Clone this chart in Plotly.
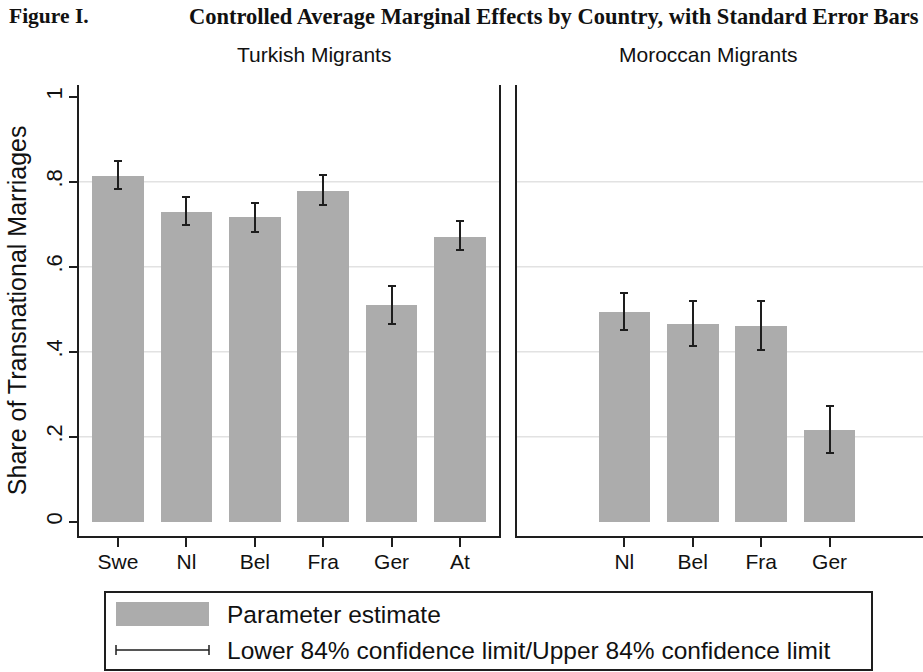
import plotly.graph_objects as go

# ---------------- data ----------------
country_order = ["Swe", "Nl", "Bel", "Fra", "Ger", "At"]

turk_countries = ["Swe", "Nl", "Bel", "Fra", "Ger", "At"]
turk_est = [0.814, 0.729, 0.717, 0.779, 0.509, 0.671]
turk_lo = [0.782, 0.697, 0.681, 0.744, 0.464, 0.639]
turk_hi = [0.849, 0.764, 0.751, 0.815, 0.555, 0.708]

mor_countries = ["Nl", "Bel", "Fra", "Ger"]
mor_est = [0.494, 0.466, 0.460, 0.215]
mor_lo = [0.452, 0.413, 0.403, 0.162]
mor_hi = [0.538, 0.519, 0.519, 0.272]

y_ticks = [0, 0.2, 0.4, 0.6, 0.8, 1]
y_tick_labels = ["0", ".2", ".4", ".6", ".8", "1"]
grid_vals = [0.2, 0.4, 0.6, 0.8]

panel_titles = ["Turkish Migrants", "Moroccan Migrants"]
y_title = "Share of Transnational Marriages"
fig_label = "Figure I."
fig_title = "Controlled Average Marginal Effects by Country, with Standard Error Bars"
legend_labels = ["Parameter estimate",
                 "Lower 84% confidence limit/Upper 84% confidence limit"]

# ---------------- styles ----------------
W, H = 923, 672
BAR = "#acacac"
INK = "#1e1e1e"
GRID = "#e2e2e2"
SANS = "Liberation Sans, Arial, sans-serif"
SERIF = "Liberation Serif, Times New Roman, serif"


def px(x):
    return x / W


def py(y):
    return 1 - y / H


def pos(names):
    return [country_order.index(c) for c in names]


def err(est, lo, hi):
    return dict(type="data", symmetric=False,
                array=[h - e for e, h in zip(est, hi)],
                arrayminus=[e - l for e, l in zip(est, lo)],
                color=INK, thickness=2, width=4)


fig = go.Figure()
fig.add_trace(go.Bar(x=pos(turk_countries), y=turk_est, width=0.755,
                     marker=dict(color=BAR, line=dict(width=0)),
                     error_y=err(turk_est, turk_lo, turk_hi),
                     xaxis="x", yaxis="y", showlegend=False))
fig.add_trace(go.Bar(x=pos(mor_countries), y=mor_est, width=0.755,
                     marker=dict(color=BAR, line=dict(width=0)),
                     error_y=err(mor_est, mor_lo, mor_hi),
                     xaxis="x2", yaxis="y2", showlegend=False))

ydom = [py(535.7), py(85)]
yr = [-0.033, 1.0275]
axis_common = dict(showline=True, linecolor=INK, linewidth=2, showgrid=False,
                   zeroline=False, ticks="outside", tickcolor=INK, tickwidth=2,
                   fixedrange=True)

fig.update_layout(
    width=W, height=H, autosize=False,
    margin=dict(l=0, r=0, t=0, b=0),
    paper_bgcolor="white", plot_bgcolor="white",
    bargap=0,
    xaxis=dict(domain=[px(79), px(499)], anchor="y", range=[-0.57, 5.57],
               tickvals=pos(turk_countries), ticktext=turk_countries,
               ticklen=9, ticklabelstandoff=-3,
               tickfont=dict(family=SANS, size=21, color="#111"),
               **axis_common),
    xaxis2=dict(domain=[px(517), 1.0], anchor="y2", range=[-0.57, 5.366],
                tickvals=pos(mor_countries), ticktext=mor_countries,
                ticklen=9, ticklabelstandoff=-3,
                tickfont=dict(family=SANS, size=21, color="#111"),
                **axis_common),
    yaxis=dict(domain=ydom, anchor="x", range=yr, tickvals=y_ticks,
               ticktext=y_tick_labels, tickangle=-90, ticklen=8, mirror=True,
               ticklabelstandoff=-2,
               tickfont=dict(family=SANS, size=22, color="#111"),
               title=dict(text=y_title, font=dict(family=SANS, size=25, color="#111"),
                          standoff=8),
               **axis_common),
    yaxis2=dict(domain=ydom, anchor="x2", range=yr, showline=True, linecolor=INK,
                linewidth=2, showgrid=False, zeroline=False, showticklabels=False,
                ticks="", fixedrange=True),
)

# gridlines
for g in grid_vals:
    fig.add_shape(type="line", xref="x domain", yref="y", x0=0, x1=1, y0=g, y1=g,
                  line=dict(color=GRID, width=1.5), layer="below")
    fig.add_shape(type="line", xref="x2 domain", yref="y2", x0=0, x1=1, y0=g, y1=g,
                  line=dict(color=GRID, width=1.5), layer="below")

# titles
fig.add_annotation(x=px(7), y=py(16), xref="paper", yref="paper", xanchor="left",
                   yanchor="middle", showarrow=False, text="<b>%s</b>" % fig_label,
                   font=dict(family=SERIF, size=21.5, color="#111"))
fig.add_annotation(x=px(921), y=py(16), xref="paper", yref="paper", xanchor="right",
                   yanchor="middle", showarrow=False, text="<b>%s</b>" % fig_title,
                   font=dict(family=SERIF, size=22.5, color="#111"))
fig.add_annotation(x=px(314), y=py(54), xref="paper", yref="paper", xanchor="center",
                   yanchor="middle", showarrow=False, text=panel_titles[0],
                   font=dict(family=SANS, size=21, color="#111"))
fig.add_annotation(x=px(708), y=py(54), xref="paper", yref="paper", xanchor="center",
                   yanchor="middle", showarrow=False, text=panel_titles[1],
                   font=dict(family=SANS, size=21, color="#111"))

# legend box (decoration)
fig.add_shape(type="rect", xref="paper", yref="paper", x0=px(105), x1=px(872),
              y0=py(670), y1=py(592), line=dict(color=INK, width=2),
              fillcolor="white", layer="above")
fig.add_shape(type="rect", xref="paper", yref="paper", x0=px(116), x1=px(209),
              y0=py(626), y1=py(602), line=dict(width=0), fillcolor=BAR, layer="above")
fig.add_shape(type="line", xref="paper", yref="paper", x0=px(116), x1=px(209),
              y0=py(650), y1=py(650), line=dict(color=INK, width=1.5), layer="above")
for xx in (116, 209):
    fig.add_shape(type="line", xref="paper", yref="paper", x0=px(xx), x1=px(xx),
                  y0=py(645), y1=py(655), line=dict(color=INK, width=1.5), layer="above")
for lab, yy in zip(legend_labels, (614, 650)):
    fig.add_annotation(x=px(225), y=py(yy), xref="paper", yref="paper", xanchor="left",
                       yanchor="middle", showarrow=False, text=lab,
                       font=dict(family=SANS, size=24.5, color="#111"))

fig.write_html("out.html", config={"displayModeBar": False, "staticPlot": True},
               post_script="document.body.style.margin='0';")
